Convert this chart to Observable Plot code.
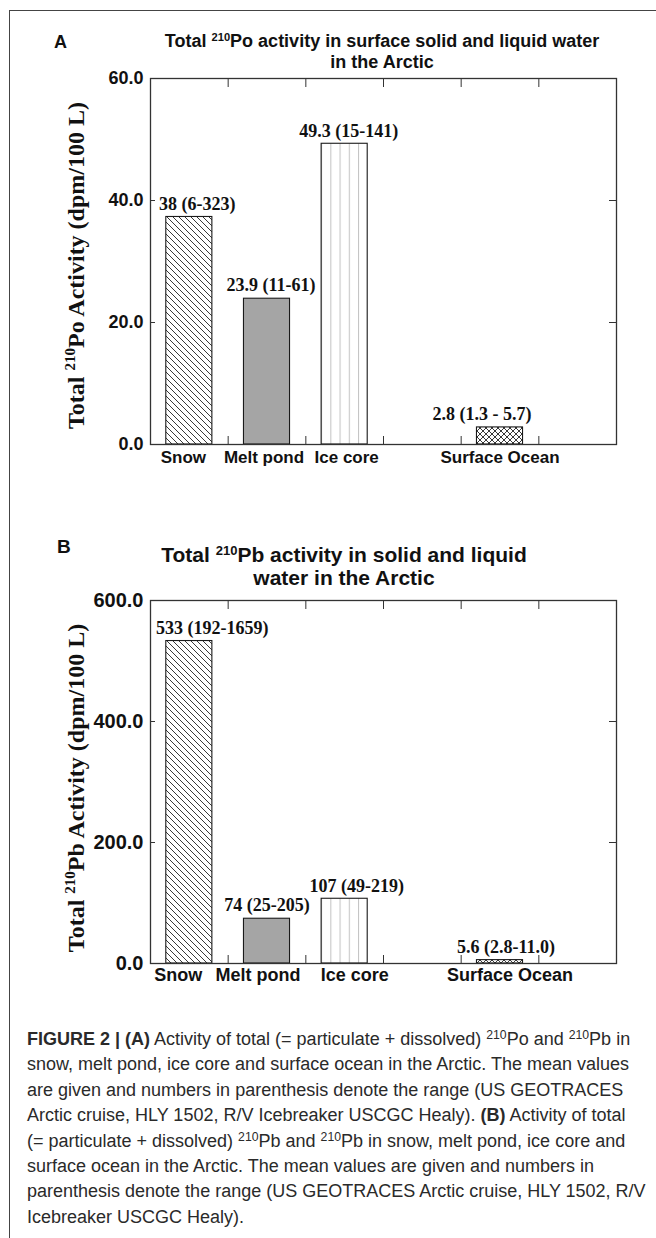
<!DOCTYPE html>
<html>
<head>
<meta charset="utf-8">
<script src="https://cdn.jsdelivr.net/npm/d3@7"></script>
<script src="https://cdn.jsdelivr.net/npm/@observablehq/plot@0.6"></script>
<style>
html, body { margin: 0; padding: 0; background: #fff; }
#page { position: relative; width: 656px; height: 1238px; overflow: hidden;
  font-family: "Liberation Sans", Arial, sans-serif; color: #111; }
#rule { position: absolute; left: 9px; top: 10px; width: 647px; height: 1228px;
  border-left: 1px solid #444; border-top: 1px solid #444; box-sizing: border-box; }
.letter { position: absolute; font-weight: bold; }
.title { position: absolute; font-weight: bold; text-align: center; white-space: nowrap;
  transform: translateX(-50%); }
.title sup { font-size: 0.62em; line-height: 0; vertical-align: 0.55em; }
.chart { position: absolute; left: 0; }
#caption { position: absolute; left: 27px; top: 1027px; font-size: 18px; line-height: 25.4px;
  color: #2a2a2a; white-space: nowrap; }
#caption sup { font-size: 0.68em; line-height: 0; vertical-align: 0.5em; }
</style>
</head>
<body>
<svg width="0" height="0" style="position:absolute">
  <defs>
    <pattern id="hatch" patternUnits="userSpaceOnUse" width="6" height="6">
      <rect width="6" height="6" fill="#fff"/>
      <path d="M-1,-1 L7,7 M-1,5 L1,7 M5,-1 L7,1" stroke="#222" stroke-width="0.9"/>
    </pattern>
    <pattern id="cross" patternUnits="userSpaceOnUse" width="6" height="6">
      <rect width="6" height="6" fill="#fff"/>
      <path d="M-1,-1 L7,7 M-1,5 L1,7 M5,-1 L7,1 M-1,7 L7,-1 M-1,1 L1,-1 M5,7 L7,5" stroke="#222" stroke-width="0.9"/>
    </pattern>
    <pattern id="vlines" patternUnits="objectBoundingBox" x="0" y="0" width="0.2" height="1">
      <rect width="20" height="2000" fill="#fff"/>
      <line x1="0.5" y1="0" x2="0.5" y2="2000" stroke="#c2c2c2" stroke-width="1"/>
    </pattern>
  </defs>
</svg>
<div id="page">
  <div id="rule"></div>
  <div class="letter" style="left:54px;top:32px;font-size:18px;line-height:20px;">A</div>
  <div class="title" style="left:382px;top:31px;font-size:18px;line-height:21px;">Total <sup>210</sup>Po activity in surface solid and liquid water<br>in the Arctic</div>
  <div id="chartA" class="chart" style="top:68px;"></div>
  <div class="letter" style="left:57px;top:536px;font-size:19px;line-height:22px;">B</div>
  <div class="title" style="left:344px;top:543px;font-size:21px;line-height:23px;">Total <sup>210</sup>Pb activity in solid and liquid<br>water in the Arctic</div>
  <div id="chartB" class="chart" style="top:588px;"></div>
  <div id="caption"><b>FIGURE 2 | (A)</b> Activity of total (= particulate + dissolved) <sup>210</sup>Po and <sup>210</sup>Pb in<br>snow, melt pond, ice core and surface ocean in the Arctic. The mean values<br>are given and numbers in parenthesis denote the range (US GEOTRACES<br>Arctic cruise, HLY 1502, R/V Icebreaker USCGC Healy). <b>(B)</b> Activity of total<br>(= particulate + dissolved) <sup>210</sup>Pb and <sup>210</sup>Pb in snow, melt pond, ice core and<br>surface ocean in the Arctic. The mean values are given and numbers in<br>parenthesis denote the range (US GEOTRACES Arctic cruise, HLY 1502, R/V<br>Icebreaker USCGC Healy).</div>
</div>
<script>
// ---- data ----
const categories = ["Snow", "Melt pond", "Ice core", "Surface Ocean"];
const slots = [0, 1, 2, 4];          // slot of each category on the six-slot axis
const slotTicks = [1, 2, 3, 4, 5];

const valuesA = [37.3, 23.9, 49.3, 2.8];
const labelsA = ["38 (6-323)", "23.9 (11-61)", "49.3 (15-141)", "2.8 (1.3 - 5.7)"];
const yTicksA = [0, 20, 40, 60];

const valuesB = [533, 74, 107, 5.6];
const labelsB = ["533 (192-1659)", "74 (25-205)", "107 (49-219)", "5.6 (2.8-11.0)"];
const yTicksB = [0, 200, 400, 600];

// ---- styles ----
const barFill = {"Snow": "url(#hatch)", "Melt pond": "#a5a5a5", "Ice core": "url(#vlines)", "Surface Ocean": "url(#cross)"};
const sans = "'Liberation Sans', Arial, sans-serif";
const serif = "'Liberation Serif', 'Times New Roman', serif";

function makeChart({values, labels, yTicks, height, marginTop, marginBottom, tickFont,
                    catFont, catDy, catNudge, valFont, valNudge, labelDy, isotope}) {
  const rows = categories.map((c, i) => ({category: c, slot: slots[i], value: values[i], label: labels[i]}));
  const yLabel = `Total 210${isotope} Activity (dpm/100 L)`;
  const blank = () => "";
  const svg = Plot.plot({
    width: 656, height, marginLeft: 150, marginRight: 40, marginTop, marginBottom,
    style: {fontFamily: sans, color: "#111", background: "transparent", overflow: "visible"},
    x: {domain: [0, 6], label: null},
    y: {domain: [yTicks[0], yTicks[yTicks.length - 1]], label: null},
    color: {type: "identity"},
    marks: [
      Plot.rect(rows, {x1: "slot", x2: d => d.slot + 1, y1: 0, y2: "value",
        insetLeft: 15.8, insetRight: 15.8, fill: d => barFill[d.category], stroke: "#1a1a1a", strokeWidth: 1.1}),
      Plot.frame({stroke: "#333", strokeWidth: 1.3}),
      Plot.axisY({ticks: yTicks, tickSize: 5, dx: 5, tickFormat: blank, label: null, stroke: "#333"}),
      Plot.axisY({anchor: "right", ticks: yTicks, tickSize: 8, dx: -8, tickFormat: blank, label: null, stroke: "#333"}),
      Plot.axisX({anchor: "top", ticks: slotTicks, tickSize: 8, dy: 8, tickFormat: blank, label: null, stroke: "#333"}),
      Plot.axisX({anchor: "bottom", ticks: slotTicks, tickSize: 8, dy: -8, tickFormat: blank, label: null, stroke: "#333"}),
      Plot.axisY({ticks: yTicks, tickSize: 0, tickPadding: 7, tickFormat: d3.format(".1f"), label: null,
        fontSize: tickFont, fontWeight: "bold"}),
      ...rows.map((r, i) => Plot.text([r], {x: d => d.slot + 0.5, text: "category", frameAnchor: "bottom",
        dy: catDy, dx: catNudge[i], fontSize: catFont, fontWeight: "bold", fill: "#111"})),
      ...rows.map((r, i) => Plot.text([r], {x: d => d.slot + 0.5, y: "value", text: "label", dy: -13,
        dx: valNudge[i], fontFamily: serif, fontSize: valFont, fontWeight: "bold", fill: "#111"})),
      Plot.text([yLabel], {text: d => d, frameAnchor: "left", textAnchor: "middle", rotate: -90,
        dx: -74, dy: labelDy, fontFamily: serif, fontSize: 24, fontWeight: "bold", fill: "#111"})
    ]
  });
  // superscript mass number in the y label
  const t = Array.from(svg.querySelectorAll("text")).find(e => e.textContent === yLabel);
  if (t) {
    const ns = "http://www.w3.org/2000/svg";
    t.textContent = "";
    const parts = [["Total ", 0], ["210", 1], [isotope + " Activity (dpm/100 L)", 2]];
    for (const [s, k] of parts) {
      const ts = document.createElementNS(ns, "tspan");
      ts.textContent = s;
      if (k === 1) { ts.setAttribute("font-size", "15"); ts.setAttribute("dy", "-9"); }
      if (k === 2) { ts.setAttribute("dy", "9"); }
      t.appendChild(ts);
    }
  }
  return svg;
}

document.getElementById("chartA").appendChild(makeChart({
  values: valuesA, labels: labelsA, yTicks: yTicksA, height: 410, marginTop: 10, marginBottom: 34,
  tickFont: 18, catFont: 17, catDy: 18, catNudge: [-6, -3, 2, 0],
  valFont: 18, valNudge: [8, 4, 4, -18], labelDy: 4, isotope: "Po"
}));
document.getElementById("chartB").appendChild(makeChart({
  values: valuesB, labels: labelsB, yTicks: yTicksB, height: 410, marginTop: 12, marginBottom: 35,
  tickFont: 20, catFont: 18, catDy: 17, catNudge: [-11, -9, 10, 10],
  valFont: 18, valNudge: [23, 0, 12, 6], labelDy: 6, isotope: "Pb"
}));
</script>
</body>
</html>
